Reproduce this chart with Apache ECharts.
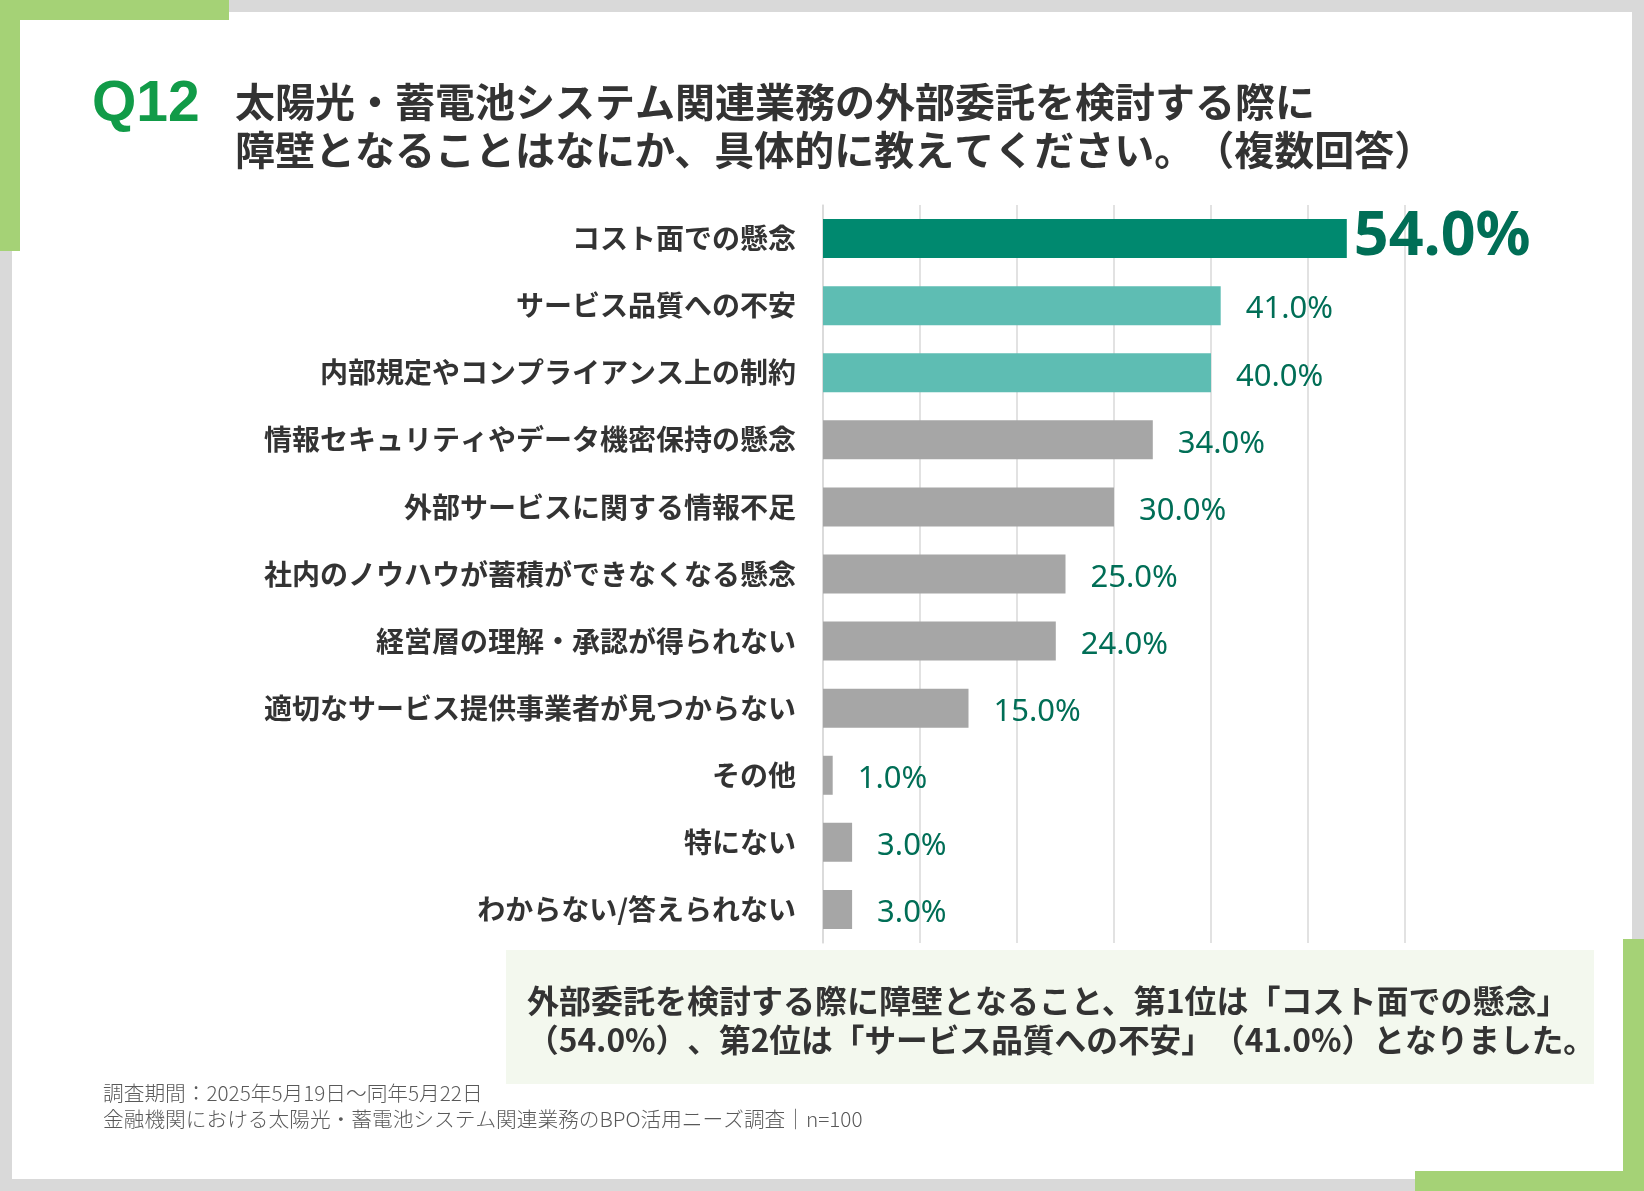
<!DOCTYPE html>
<html>
<head>
<meta charset="utf-8">
<script src="https://cdn.jsdelivr.net/npm/echarts@6/dist/echarts.min.js"></script>
<style>
html,body{margin:0;padding:0;background:#D9D9D9;text-spacing-trim:space-all;}
#chart{width:1644px;height:1191px;text-spacing-trim:space-all;}
canvas{text-spacing-trim:space-all;}
</style>
</head>
<body>
<div id="chart"></div>
<script>
const categories = [
  'コスト面での懸念',
  'サービス品質への不安',
  '内部規定やコンプライアンス上の制約',
  '情報セキュリティやデータ機密保持の懸念',
  '外部サービスに関する情報不足',
  '社内のノウハウが蓄積ができなくなる懸念',
  '経営層の理解・承認が得られない',
  '適切なサービス提供事業者が見つからない',
  'その他',
  '特にない',
  'わからない/答えられない'
];
const values = [54.0, 41.0, 40.0, 34.0, 30.0, 25.0, 24.0, 15.0, 1.0, 3.0, 3.0];
const xTicks = [0, 10, 20, 30, 40, 50, 60];

const questionNo = 'Q12';
const titleLines = [
  '太陽光・蓄電池システム関連業務の外部委託を検討する際に',
  '障壁となることはなにか、具体的に教えてください。（複数回答）'
];
const summaryLines = [
  '外部委託を検討する際に障壁となること、第1位は「コスト面での懸念」',
  '（54.0%）、第2位は「サービス品質への不安」（41.0%）となりました。'
];
const footnoteLines = [
  '調査期間：2025年5月19日～同年5月22日',
  '金融機関における太陽光・蓄電池システム関連業務のBPO活用ニーズ調査｜n=100'
];

const COLOR_TOP = '#00896F';
const COLOR_SECOND = '#5EBDB3';
const COLOR_OTHER = '#A6A6A6';
const LABEL_COLOR = '#006E56';
const CJK = '"Noto Sans CJK JP", "Noto Sans", sans-serif';
const NUM = '"Noto Sans", "Open Sans", sans-serif';

const chart = echarts.init(document.getElementById('chart'));

const seriesData = values.map((v, i) => {
  const item = { value: v };
  if (i === 0) {
    item.itemStyle = { color: COLOR_TOP };
    item.label = { fontSize: 61, fontWeight: 'bold', distance: 7, offset: [0, -1] };
  } else if (i <= 2) {
    item.itemStyle = { color: COLOR_SECOND };
  } else {
    item.itemStyle = { color: COLOR_OTHER };
  }
  return item;
});

const graphics = [
  { type: 'rect', z: -100, shape: { x: 12, y: 12, width: 1620, height: 1167 }, style: { fill: '#FFFFFF' }, silent: true },
  { type: 'rect', z: -90, shape: { x: 0, y: 0, width: 229, height: 20 }, style: { fill: '#A5D276' }, silent: true },
  { type: 'rect', z: -90, shape: { x: 0, y: 0, width: 20, height: 251 }, style: { fill: '#A5D276' }, silent: true },
  { type: 'rect', z: -90, shape: { x: 1623, y: 939, width: 21, height: 252 }, style: { fill: '#A5D276' }, silent: true },
  { type: 'rect', z: -90, shape: { x: 1415, y: 1171, width: 229, height: 20 }, style: { fill: '#A5D276' }, silent: true },
  { type: 'rect', z: -80, shape: { x: 506, y: 950, width: 1088, height: 134 }, style: { fill: '#F3F8EE' }, silent: true },
  { type: 'text', z: 10, x: 92, y: 105, style: { text: questionNo, fill: '#119B48', font: 'bold 57px "Liberation Sans", Arial, sans-serif', textVerticalAlign: 'middle' } },
  { type: 'text', z: 10, x: 235, y: 102, style: { text: titleLines[0], fill: '#333333', font: 'bold 40px ' + CJK, textVerticalAlign: 'middle' } },
  { type: 'text', z: 10, x: 235, y: 150, style: { text: titleLines[1], fill: '#333333', font: 'bold 40px ' + CJK, textVerticalAlign: 'middle' } },
  { type: 'text', z: 10, x: 527, y: 1001, style: { text: summaryLines[0], fill: '#333333', font: 'bold 32px ' + CJK, textVerticalAlign: 'middle' } },
  { type: 'text', z: 10, x: 527, y: 1040, style: { text: summaryLines[1], fill: '#333333', font: 'bold 31.7px ' + CJK, textVerticalAlign: 'middle' } },
  { type: 'text', z: 10, x: 103, y: 1093, style: { text: footnoteLines[0], fill: '#595959', font: '300 20.7px ' + CJK, textVerticalAlign: 'middle' } },
  { type: 'text', z: 10, x: 103, y: 1119, style: { text: footnoteLines[1], fill: '#595959', font: '300 20.7px ' + CJK, textVerticalAlign: 'middle' } }
];

chart.setOption({
  backgroundColor: '#D9D9D9',
  animation: false,
  graphic: graphics,
  grid: { left: 823, right: 239, top: 205, bottom: 248, containLabel: false },
  xAxis: {
    type: 'value',
    min: xTicks[0],
    max: xTicks[xTicks.length - 1],
    interval: xTicks[1] - xTicks[0],
    axisLabel: { show: false },
    axisLine: { show: false },
    axisTick: { show: false },
    splitLine: { show: true, lineStyle: { color: '#D9D9D9', width: 1.5 } }
  },
  yAxis: {
    type: 'category',
    inverse: true,
    data: categories,
    axisTick: { show: false },
    axisLine: { show: true, lineStyle: { color: '#D9D9D9', width: 1.5 } },
    axisLabel: {
      margin: 27,
      color: '#333333',
      fontFamily: CJK,
      fontWeight: 'bold',
      fontSize: 28,
      padding: [0, 0, 8, 0]
    }
  },
  series: [{
    type: 'bar',
    data: seriesData,
    barWidth: 39,
    label: {
      show: true,
      position: 'right',
      distance: 25,
      offset: [0, 4],
      color: LABEL_COLOR,
      fontFamily: NUM,
      fontSize: 31,
      formatter: p => p.value.toFixed(1) + '%'
    }
  }]
});
</script>
</body>
</html>
